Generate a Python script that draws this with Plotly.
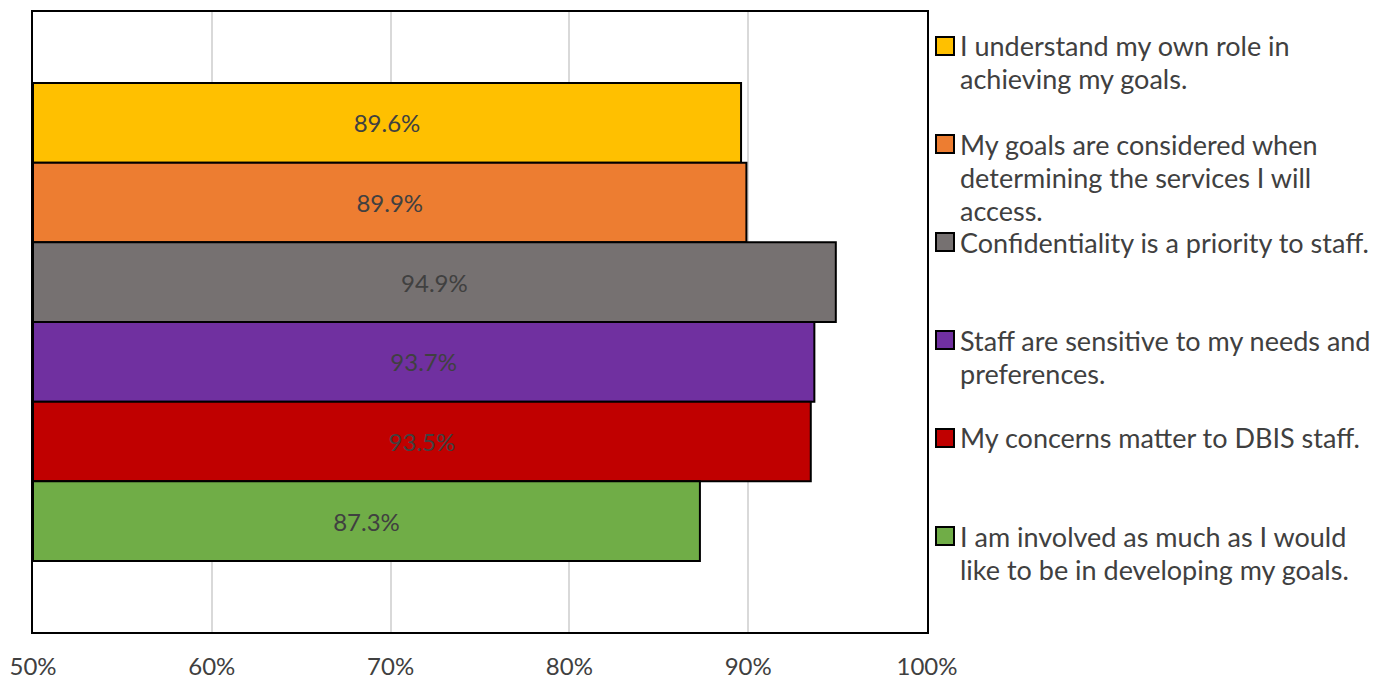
import plotly.graph_objects as go

# ---- data ----
labels = [
    "I understand my own role in<br>achieving my goals.",
    "My goals are considered when<br>determining the services I will<br>access.",
    "Confidentiality is a priority to staff.",
    "Staff are sensitive to my needs and<br>preferences.",
    "My concerns matter to DBIS staff.",
    "I am involved as much as I would<br>like to be in developing my goals.",
]
values = [89.6, 89.9, 94.9, 93.7, 93.5, 87.3]
colors = ["#FFC000", "#ED7D31", "#767171", "#7030A0", "#C00000", "#70AD47"]
x_ticks = [50, 60, 70, 80, 90, 100]
x_ticktext = ["50%", "60%", "70%", "80%", "90%", "100%"]
AXIS_MIN, AXIS_MAX = 50, 100

W, H = 1388, 683
ML, MR, MT, MB = 33, 461, 12, 51
FONT = "Lato"
TXT = "#404040"

fig = go.Figure()
for lab, v, c in zip(labels, values, colors):
    fig.add_trace(go.Bar(
        y=["Q"], x=[v - AXIS_MIN], base=AXIS_MIN, orientation="h",
        name=lab.replace("<br>", " "),
        marker=dict(color=c, line=dict(color="black", width=2)),
        text=[f"{v:.1f}%"], textposition="inside", insidetextanchor="middle",
        textfont=dict(family=FONT, size=24, color=TXT),
        constraintext="none", showlegend=False, hoverinfo="skip",
    ))

# ---- manual legend (Excel-style equal slots) ----
pw, ph = W - ML - MR, H - MT - MB
def px_x(px):
    return (px - ML) / pw
def px_y(py):
    return (H - MB - py) / ph

slot0, slot_gap, line_gap = 46, 98, 33
shapes = []
annotations = []
for i, (lab, c) in enumerate(zip(labels, colors)):
    cy = slot0 + i * slot_gap
    shapes.append(dict(type="rect", xref="paper", yref="paper",
                       x0=px_x(936), x1=px_x(954), y0=px_y(cy - 9), y1=px_y(cy + 9),
                       fillcolor=c, line=dict(color="black", width=2)))
    for j, line in enumerate(lab.split("<br>")):
        annotations.append(dict(xref="paper", yref="paper", x=px_x(958), y=px_y(cy + j * line_gap),
                                xanchor="left", yanchor="middle", showarrow=False, text=line,
                                font=dict(family=FONT, size=27, color=TXT)))

fig.update_layout(
    width=W, height=H,
    margin=dict(l=ML, r=MR, t=MT, b=MB, pad=0, autoexpand=False),
    paper_bgcolor="white", plot_bgcolor="white",
    barmode="group", bargap=0.229, bargroupgap=0,
    shapes=shapes, annotations=annotations,
    font=dict(family=FONT, color=TXT),
    xaxis=dict(range=[AXIS_MIN, AXIS_MAX], tickvals=x_ticks, ticktext=x_ticktext,
               showgrid=True, gridcolor="#D9D9D9", gridwidth=1.5,
               showline=True, linecolor="black", linewidth=2, mirror=True,
               ticks="outside", ticklen=12, tickcolor="rgba(0,0,0,0)",
               tickfont=dict(family=FONT, size=24, color=TXT), zeroline=False,
               automargin=False, fixedrange=True),
    yaxis=dict(type="category", range=[0.5, -0.5], showticklabels=False,
               showgrid=False, showline=True, linecolor="black", linewidth=2, mirror=True,
               ticks="", automargin=False, fixedrange=True),
)

fig.write_html("out.html")
